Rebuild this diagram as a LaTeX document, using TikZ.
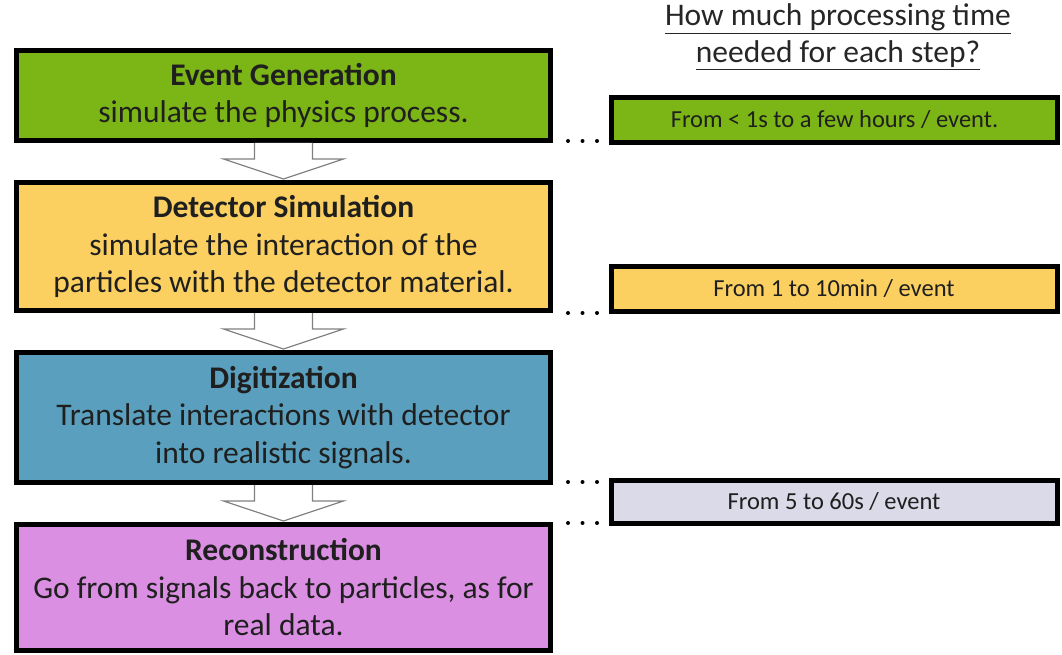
\documentclass[tikz,border=0pt]{standalone}
\usepackage{fontspec}
\setmainfont{Carlito}
\usetikzlibrary{calc}
\definecolor{evgreen}{RGB}{124,181,22}
\definecolor{evyellow}{RGB}{251,208,97}
\definecolor{evblue}{RGB}{90,160,190}
\definecolor{evviolet}{RGB}{218,143,226}
\definecolor{evgrey}{RGB}{218,218,232}
\definecolor{arrgrey}{RGB}{128,128,128}
\tikzset{
  stepbox/.style={draw=black, line width=5pt, inner sep=0pt, align=center,
    minimum width=534pt, font=\fontsize{31.5}{37.5}\selectfont, text=black!88},
  timebox/.style={draw=black, line width=5pt, inner sep=0pt, align=center,
    minimum width=446pt, minimum height=45pt, font=\fontsize{24.5}{29}\selectfont, text=black!88},
  blockarrow/.style={draw=arrgrey, line width=1.2pt, fill=white, line join=miter},
  dotrow/.style={line width=4pt, line cap=round, dash pattern=on 0.01pt off 14.49pt, dash phase=7.5pt, black}
}
\newcommand\blkarr[2]{%
  \draw[blockarrow] ($(#1.south)+(-29,0)$) -- ($(#2.north)+(-29,-21)$) -- ($(#2.north)+(-60,-21)$)
    -- ($(#2.north)+(0,-1)$) -- ($(#2.north)+(60,-21)$) -- ($(#2.north)+(29,-21)$) -- ($(#1.south)+(29,0)$);}
\begin{document}
\begin{tikzpicture}[x=1pt,y=-1pt]
\useasboundingbox (0,0) rectangle (1062,655);
% steps
\node[stepbox, fill=evgreen, minimum height=90pt] (b1) at (283.5,95.5)
  {\textbf{Event Generation}\\simulate the physics process.};
\node[stepbox, fill=evyellow, minimum height=128pt] (b2) at (283.5,246.5)
  {\textbf{Detector Simulation}\\simulate the interaction of the\\particles with the detector material.};
\node[stepbox, fill=evblue, minimum height=130pt] (b3) at (283.5,417.5)
  {\textbf{Digitization}\\Translate interactions with detector\\into realistic signals.};
\node[stepbox, fill=evviolet, minimum height=126pt] (b4) at (283.5,587.5)
  {\textbf{Reconstruction}\\Go from signals back to particles, as for\\real data.};
% arrows
\blkarr{b1}{b2}
\blkarr{b2}{b3}
\blkarr{b3}{b4}
% header
\node[align=center, font=\fontsize{31.5}{37}\selectfont, text=black!85] (hdr) at (838,37)
  {\underline{How much processing time}\\\underline{needed for each step?}};
% time boxes
\node[timebox, fill=evgreen] (r1) at (834.5,120) {From < 1s to a few hours / event.};
\node[timebox, fill=evyellow] (r2) at (834,289) {From 1 to 10min / event};
\node[timebox, fill=evgrey, minimum height=43pt] (r3) at (834,502) {From 5 to 60s / event};
% dotted links
\draw[dotrow] ($(b1.south east)+(8,-2)$) -- ($(b1.south east -| r1.west)+(-6,-2)$);
\draw[dotrow] ($(b2.south east)+(8,0)$) -- ($(b2.south east -| r2.west)+(-6,0)$);
\draw[dotrow] ($(b3.south east)+(8,-3)$) -- ($(b3.south east -| r3.west)+(-6,-3)$);
\draw[dotrow] ($(b4.north east)+(8,1)$) -- ($(b4.north east -| r3.west)+(-6,1)$);
\end{tikzpicture}
\end{document}
